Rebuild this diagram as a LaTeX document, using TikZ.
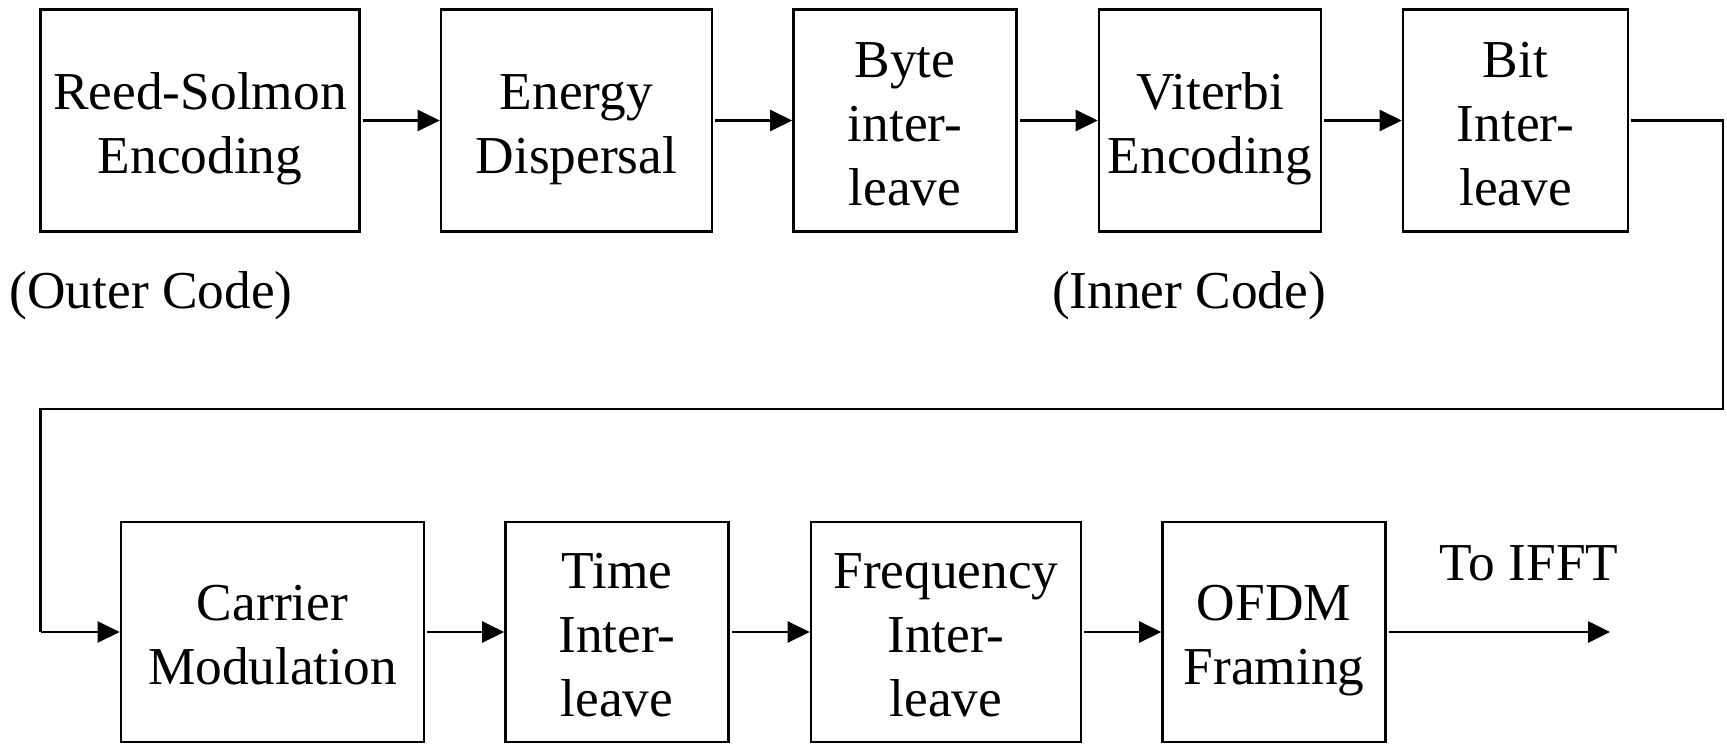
\documentclass[tikz,border=0pt]{standalone}
\usepackage{fontspec}
\setmainfont{Liberation Serif}
\usetikzlibrary{arrows.meta}
% uniform height for the first text line of every block
\newcommand\firstline{\rule{0pt}{12.5pt}}
\begin{document}
\begin{tikzpicture}[x=0.3pt, y=-0.3pt,
  blk/.style={draw, line width=0.8pt, align=center, inner sep=0pt,
    minimum height=66.6pt, text depth=0pt,
    font=\fontsize{16}{19.2}\selectfont},
  lbl/.style={anchor=base, inner sep=0pt, font=\fontsize{16}{19.2}\selectfont},
  flow/.style={line width=0.8pt, -{Triangle[length=6.6pt,width=6.3pt]}},
  wire/.style={line width=0.8pt}]
\useasboundingbox (0,0) rectangle (1727,743);

% upper chain
\node[blk, minimum width=95.7pt] (rs)  at (200,120.5)    {\firstline Reed-Solmon\\Encoding};
\node[blk, minimum width=81.3pt] (ed)  at (576.5,120.5)  {\firstline Energy\\Dispersal};
\node[blk, minimum width=66.9pt] (byi) at (905,120.5)    {\firstline Byte\\inter-\\leave};
\node[blk, minimum width=66.6pt] (vit) at (1210,120.5)   {\firstline Viterbi\\Encoding};
\node[blk, minimum width=67.5pt] (bii) at (1515.5,120.5) {\firstline Bit\\Inter-\\leave};

\node[lbl] (outer) at (151,308)  {(Outer Code)};
\node[lbl] (inner) at (1189,308) {(Inner Code)};

% lower chain
\node[blk, minimum width=90.9pt, minimum height=66pt] (cm)   at (272.5,632) {\firstline Carrier\\Modulation};
\node[blk, minimum width=66.9pt, minimum height=66pt] (ti)   at (617,632)   {\firstline Time\\Inter-\\leave};
\node[blk, minimum width=81pt,   minimum height=66pt] (fi)   at (946,632)   {\firstline Frequency\\Inter-\\leave};
\node[blk, minimum width=66.9pt, minimum height=66pt] (ofdm) at (1274,632)  {\firstline OFDM\\Framing};

\node[lbl] (ifft) at (1529,580) {To IFFT};

% connectors
\draw[flow] ([xshift=0.6pt]rs.east)  -- (ed.west);
\draw[flow] ([xshift=0.6pt]ed.east)  -- (byi.west);
\draw[flow] ([xshift=0.6pt]byi.east) -- (vit.west);
\draw[flow] ([xshift=0.6pt]vit.east) -- (bii.west);

\coordinate (r1) at (1723,120.5);
\coordinate (r2) at (1723,409);
\coordinate (l1) at (40.5,409);
\coordinate (l2) at (40.5,632);
\draw[wire] ([xshift=0.6pt]bii.east) -- (r1) -- (r2) -- (l1) -- (l2);
\draw[flow] (l2) -- (cm.west);

\draw[flow] ([xshift=0.6pt]cm.east) -- (ti.west);
\draw[flow] ([xshift=0.6pt]ti.east) -- (fi.west);
\draw[flow] ([xshift=0.6pt]fi.east) -- (ofdm.west);

\coordinate (out) at (1610,632);
\draw[flow] ([xshift=0.6pt]ofdm.east) -- (out);
\end{tikzpicture}
\end{document}
